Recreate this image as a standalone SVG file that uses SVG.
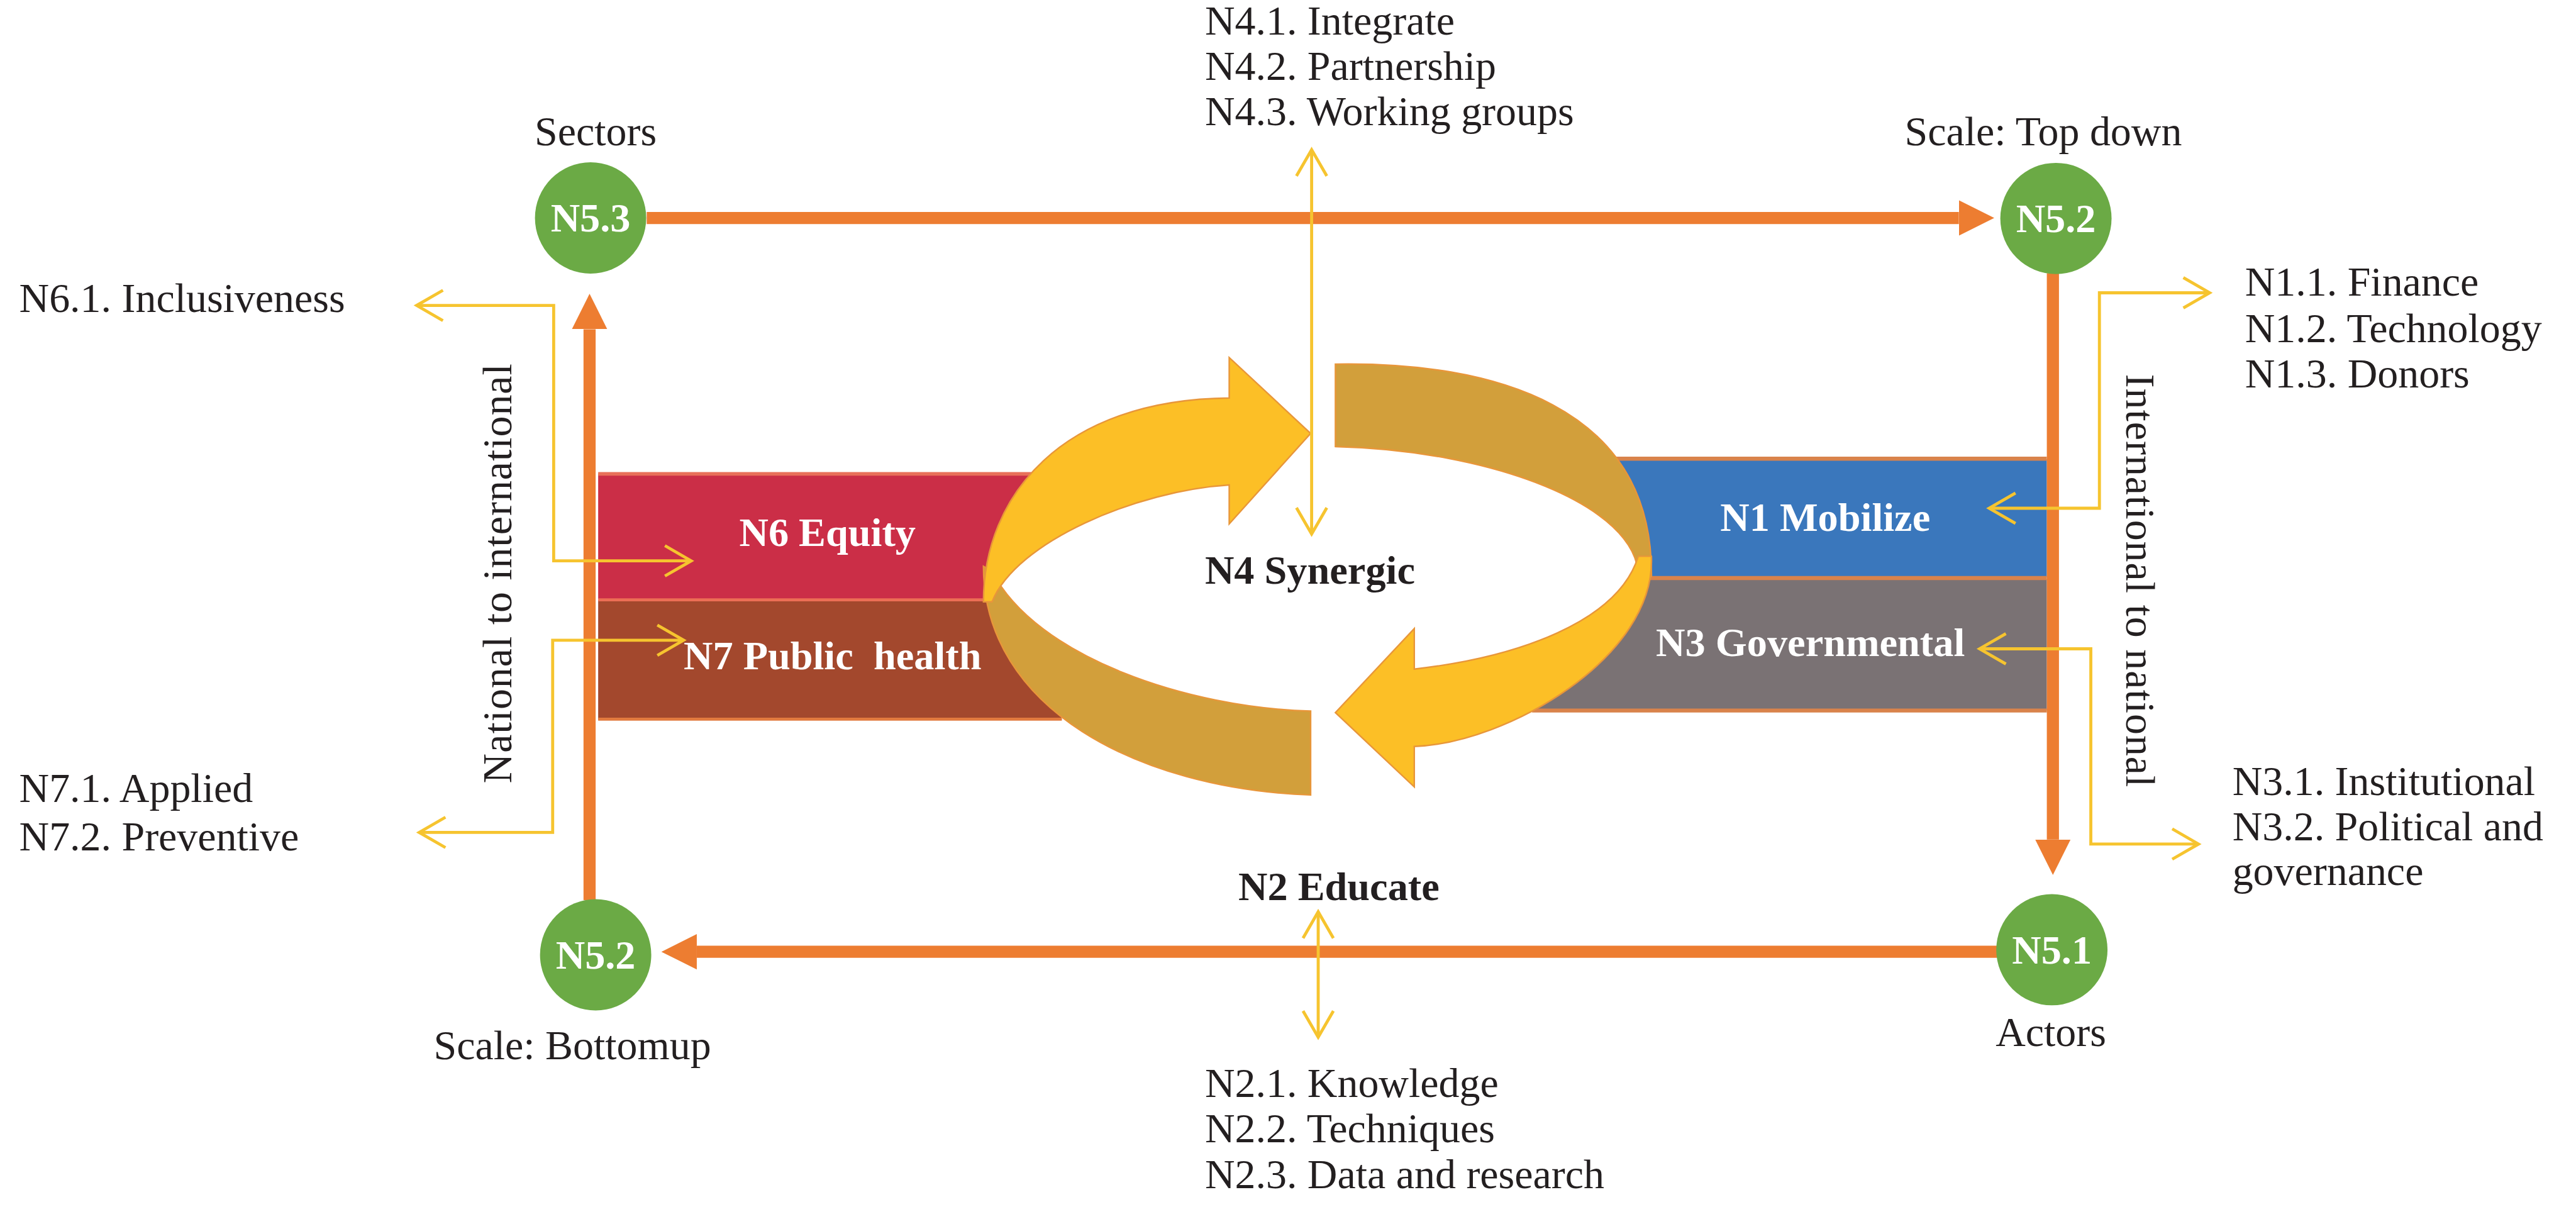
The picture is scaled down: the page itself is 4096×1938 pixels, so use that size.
<svg xmlns="http://www.w3.org/2000/svg" width="4096" height="1938" viewBox="0 0 4096 1938">
<style>
.t{font-family:"Liberation Serif","DejaVu Serif",serif;font-size:82px;fill:#231F20}
.b{font-weight:bold;font-size:80px}
.w{fill:#FFFFFF}
.ylw{stroke:#F6C42F;stroke-width:6;fill:none}
.org{stroke:#ED7D31;stroke-width:24;fill:none}
.circ{fill:#6BAA45}
.ringedge{stroke:#E8963A;stroke-width:3}
</style>
<defs>
<marker id="chev" viewBox="-60 -40 70 80" refX="0" refY="0" markerWidth="70" markerHeight="80" markerUnits="userSpaceOnUse" orient="auto-start-reverse">
<path d="M-52,-30 L0,0 L-52,30" fill="none" stroke="#F6C42F" stroke-width="6"/>
</marker>
<marker id="otri" viewBox="0 -40 80 80" refX="0" refY="0" markerWidth="80" markerHeight="80" markerUnits="userSpaceOnUse" orient="auto">
<path d="M0,-35 L70,0 L0,35 Z" fill="#ED7D31"/>
</marker>
</defs>
<rect width="4096" height="1938" fill="#FFFFFF"/>
<g transform="scale(0.804)">
<g id="n6">
<polygon points="1183,937 2040,937 2040,1184 1183,1184" fill="#CB2E47"/>
<line x1="1183" y1="937" x2="2040" y2="937" stroke="#E8705A" stroke-width="7"/>
</g>
<g id="n7">
<polygon points="1183,1187 2040,1187 2100,1423 1183,1423" fill="#A3482D"/>
<line x1="1183" y1="1186" x2="2040" y2="1186" stroke="#EC6E55" stroke-width="6"/>
<line x1="1183" y1="1422" x2="2100" y2="1422" stroke="#E27A3E" stroke-width="6"/>
</g>
<g id="n1">
<rect x="3180" y="908" width="868" height="234" fill="#3A77BC"/>
<line x1="3180" y1="907" x2="4048" y2="907" stroke="#D9834B" stroke-width="8"/>
</g>
<g id="n3">
<rect x="3030" y="1144" width="1018" height="261" fill="#7A7274"/>
<line x1="3030" y1="1143" x2="4048" y2="1143" stroke="#D9834B" stroke-width="8"/>
<line x1="3030" y1="1405" x2="4048" y2="1405" stroke="#D9834B" stroke-width="8"/>
</g>
<g id="n4">
<ellipse cx="2605" cy="1150" rx="650" ry="250" fill="#FFFFFF"/>
<path class="ringedge" d="M1945,1120 C1945,1400 2250,1560 2592,1572 L2592,1406 C2350,1400 2050,1300 1962,1130 Z" fill="#D29F3B"/>
<path class="ringedge" d="M2641,720 C2950,715 3270,800 3266,1140 L3240,1140 C3240,1000 2950,890 2641,883 Z" fill="#D29F3B"/>
<path class="ringedge" d="M1945,1190 C1945,980 2100,790 2431,787 L2431,707 L2592,857 L2431,1036 L2431,959 C2250,970 2010,1070 1962,1190 Z" fill="#FCBF26"/>
<path class="ringedge" d="M3266,1100 C3275,1300 2980,1470 2797,1476 L2797,1556 L2641,1409 L2797,1243 L2797,1323 C3000,1300 3200,1230 3240,1100 Z" fill="#FCBF26"/>
</g>
<g id="connectors">
<path class="org" d="M1279,431 L3874,431" marker-end="url(#otri)"/>
<path class="org" d="M4060,540 L4060,1660" marker-end="url(#otri)"/>
<path class="org" d="M3950,1882 L1378,1882" marker-end="url(#otri)"/>
<path class="org" d="M1166,1780 L1166,651" marker-end="url(#otri)"/>
<path class="ylw" d="M2594,296 L2594,1056" marker-start="url(#chev)" marker-end="url(#chev)"/>
<path class="ylw" d="M2607,1803 L2607,2051" marker-start="url(#chev)" marker-end="url(#chev)"/>
<path class="ylw" d="M3934,1005 L4152,1005 L4152,579 L4370,579" marker-start="url(#chev)" marker-end="url(#chev)"/>
<path class="ylw" d="M3915,1283 L4135,1283 L4135,1669 L4348,1669" marker-start="url(#chev)" marker-end="url(#chev)"/>
<path class="ylw" d="M824,604 L1095,604 L1095,1109 L1367,1109" marker-start="url(#chev)" marker-end="url(#chev)"/>
<path class="ylw" d="M1352,1266 L1093,1266 L1093,1646 L829,1646" marker-start="url(#chev)" marker-end="url(#chev)"/>
</g>
<g id="n53">
<circle class="circ" cx="1168" cy="431" r="110"/>
<text class="t b w" x="1168" y="458" text-anchor="middle" font-size="74">N5.3</text>
<text class="t" x="1178" y="287" text-anchor="middle">Sectors</text>
</g>
<g id="n52top">
<circle class="circ" cx="4066" cy="432" r="110"/>
<text class="t b w" x="4066" y="459" text-anchor="middle" font-size="74">N5.2</text>
<text class="t" x="4041" y="287" text-anchor="middle">Scale: Top down</text>
</g>
<g id="n51">
<circle class="circ" cx="4058" cy="1878" r="110"/>
<text class="t b w" x="4058" y="1905" text-anchor="middle" font-size="74">N5.1</text>
<text class="t" x="4056" y="2069" text-anchor="middle">Actors</text>
</g>
<g id="n52bot">
<circle class="circ" cx="1178" cy="1888" r="110"/>
<text class="t b w" x="1178" y="1915" text-anchor="middle" font-size="74">N5.2</text>
<text class="t" x="1132" y="2094" text-anchor="middle">Scale: Bottomup</text>
</g>
<g id="labels">
<text class="t b w" x="1462" y="1079">N6 Equity</text>
<text class="t b w" x="1352" y="1324" xml:space="preserve">N7 Public  health</text>
<text class="t b w" x="3402" y="1050">N1 Mobilize</text>
<text class="t b w" x="3275" y="1297">N3 Governmental</text>
<text class="t b" x="2383" y="1154">N4 Synergic</text>
<text class="t b" x="2449" y="1780">N2 Educate</text>
<text class="t" x="2383" y="68">N4.1. Integrate</text>
<text class="t" x="2383" y="158">N4.2. Partnership</text>
<text class="t" x="2383" y="248">N4.3. Working groups</text>
<text class="t" x="38" y="617">N6.1. Inclusiveness</text>
<text class="t" x="38" y="1586">N7.1. Applied</text>
<text class="t" x="38" y="1681">N7.2. Preventive</text>
<text class="t" x="4440" y="585">N1.1. Finance</text>
<text class="t" x="4440" y="676">N1.2. Technology</text>
<text class="t" x="4440" y="766">N1.3. Donors</text>
<text class="t" x="4415" y="1572">N3.1. Institutional</text>
<text class="t" x="4415" y="1662">N3.2. Political and</text>
<text class="t" x="4415" y="1750">governance</text>
<text class="t" x="2383" y="2169">N2.1. Knowledge</text>
<text class="t" x="2383" y="2259">N2.2. Techniques</text>
<text class="t" x="2383" y="2349">N2.3. Data and research</text>
<text class="t" transform="translate(1011,1134) rotate(-90)" text-anchor="middle" textLength="830" lengthAdjust="spacing">National to international</text>
<text class="t" transform="translate(4205,1148) rotate(90)" text-anchor="middle" textLength="817" lengthAdjust="spacing">International to national</text>
</g>
</g>
</svg>
